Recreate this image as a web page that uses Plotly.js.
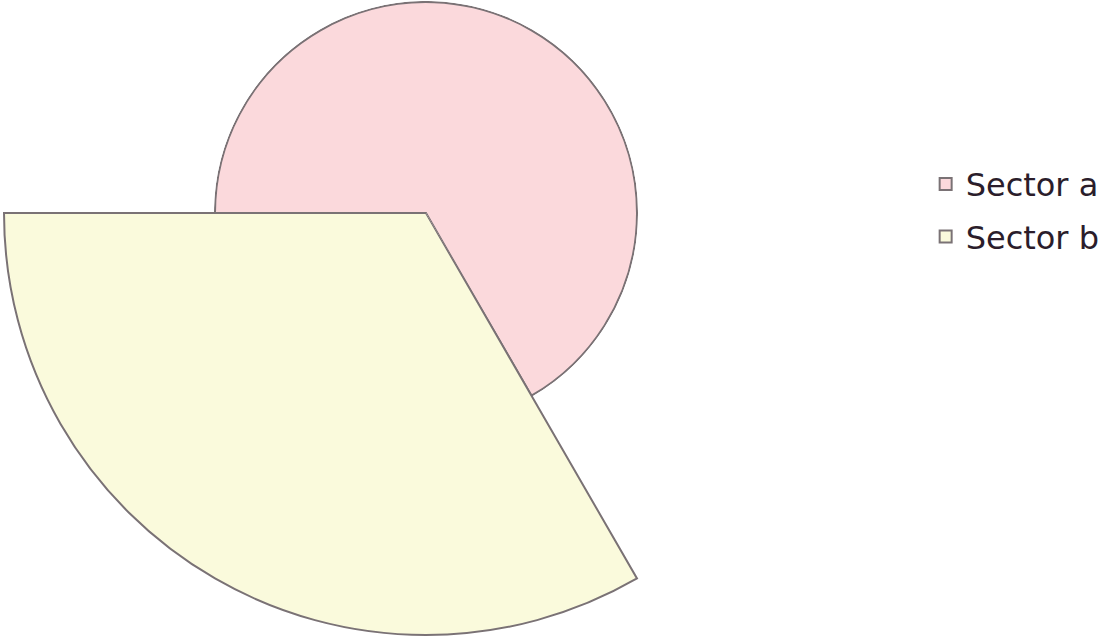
<!DOCTYPE html>
<html>
<head>
<meta charset="utf-8">
<script src="https://cdn.plot.ly/plotly-3.0.1.min.js"></script>
<style>
  html, body { margin: 0; padding: 0; background: #fff; }
  #chart { width: 1100px; height: 641px; }
</style>
</head>
<body>
<div id="chart"></div>
<script>
  // two sectors: radius, centre angle and angular width (degrees)
  var sectorNames = ['Sector a', 'Sector b'];
  var sectorR = [1, 2];
  var sectorTheta = [60, 240];
  var sectorWidth = [240, 120];
  var sectorColors = ['#fbd9dc', '#fafadc'];
  // each sector sits in its own polar subplot (same centre, same px per unit)
  var sectorSubplot = ['polar', 'polar2'];

  var data = [];
  for (var i = 0; i < sectorNames.length; i++) {
    data.push({
      type: 'barpolar',
      subplot: sectorSubplot[i],
      name: sectorNames[i],
      legendgroup: 'g' + i,
      r: [sectorR[i]],
      theta: [sectorTheta[i]],
      width: [sectorWidth[i]],
      marker: {
        color: sectorColors[i],
        line: {color: '#7a7275', width: 2}
      },
      hoverinfo: 'name'
    });
  }

  // centre at (426, 213) px, 211 px per radial unit
  var layout = {
    width: 1100,
    height: 641,
    margin: {l: 0, r: 0, t: 0, b: 0, autoexpand: false},
    paper_bgcolor: '#ffffff',
    showlegend: true,
    polar: {
      domain: {x: [0.194491, 0.580055], y: [0.381201, 0.998534]},
      sector: [-60, 180],
      bgcolor: 'rgba(0,0,0,0)',
      bargap: 0,
      radialaxis: {visible: false, range: [0, 1.005]},
      angularaxis: {visible: false}
    },
    polar2: {
      domain: {x: [0.001727, 0.582955], y: [0.006084, 0.67348]},
      sector: [179.5, 300.5],
      bgcolor: 'rgba(0,0,0,0)',
      bargap: 0,
      radialaxis: {visible: false, range: [0, 2.01]},
      angularaxis: {visible: false}
    },
    legend: {
      x: 0.8415,
      y: 0.7556,
      xanchor: 'left',
      yanchor: 'top',
      traceorder: 'grouped',
      tracegroupgap: 8,
      bgcolor: 'rgba(0,0,0,0)',
      font: {family: 'DejaVu Sans', size: 32, color: '#2b1d2b'}
    }
  };

  Plotly.newPlot('chart', data, layout, {displayModeBar: false});
</script>
</body>
</html>
